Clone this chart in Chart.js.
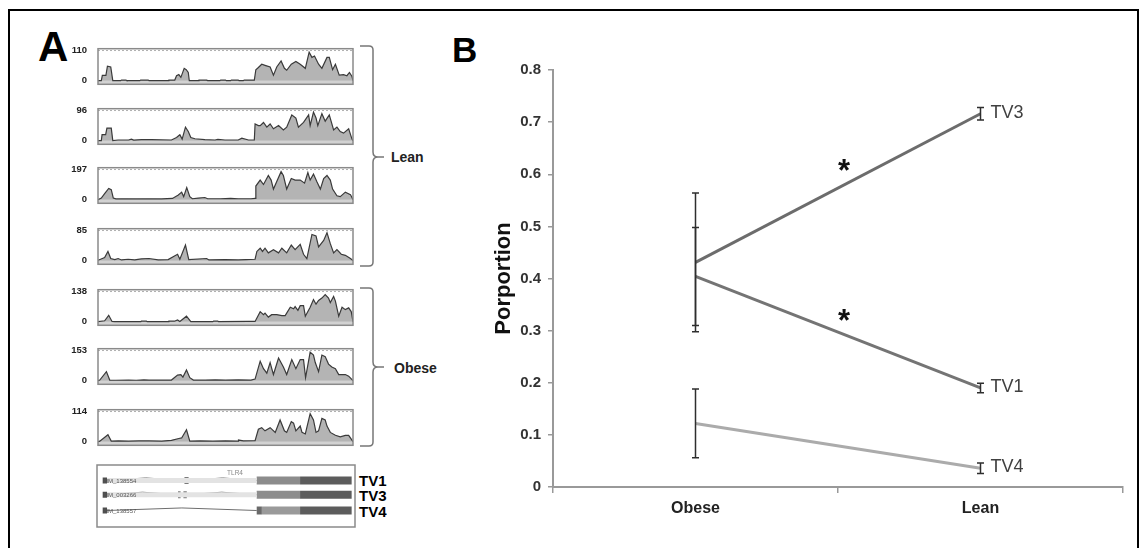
<!DOCTYPE html>
<html><head><meta charset="utf-8">
<script src="https://cdn.jsdelivr.net/npm/chart.js@4.4.1/dist/chart.umd.min.js"></script>
<style>
html,body{margin:0;padding:0;background:#fff;}
#stage{position:relative;width:1141px;height:548px;overflow:hidden;background:#fff;font-family:'Liberation Sans',Arial,sans-serif;}
#frame{position:absolute;left:8px;top:9px;width:1127px;height:560px;border:2px solid #000;}
canvas{position:absolute;}
.t{position:absolute;white-space:nowrap;color:#000;font-weight:bold;line-height:1;}
svg{position:absolute;left:0;top:0;}
</style></head><body>
<div id="stage">
<div id="frame"></div>
<div class="t" style="left:38px;top:26px;font-size:42px">A</div>
<div class="t" style="left:452px;top:32px;font-size:35px">B</div>
<div class="t" style="left:391px;top:150px;font-size:14px;color:#222">Lean</div>
<div class="t" style="left:394px;top:361px;font-size:14px;color:#222">Obese</div>
<div class="t" style="left:359px;top:473px;font-size:15px">TV1</div>
<div class="t" style="left:359px;top:488px;font-size:15px">TV3</div>
<div class="t" style="left:359px;top:504px;font-size:15px">TV4</div>
<svg width="1141" height="548">
<path d="M360,46 L369,46 Q373,46 373,50 L373,152 Q373,157 378,157 L384,157 M378,157 Q373,157 373,162 L373,262 Q373,266 369,266 L360,266" fill="none" stroke="#777" stroke-width="1.5"/>
<path d="M360,288 L369,288 Q373,288 373,292 L373,362 Q373,367 378,367 L384,367 M378,367 Q373,367 373,372 L373,442 Q373,446 369,446 L360,446" fill="none" stroke="#777" stroke-width="1.5"/>
</svg>
</div>
<script>
// ---------- Panel B data ----------
const groups = ['Obese', 'Lean'];
const seriesNames = ['TV3', 'TV1', 'TV4'];
const tv3Mean = [0.431, 0.716];
const tv3Err  = [0.133, 0.012];
const tv1Mean = [0.404, 0.190];
const tv1Err  = [0.094, 0.009];
const tv4Mean = [0.122, 0.036];
const tv4Err  = [0.066, 0.010];
const significant = ['TV3', 'TV1'];
const yAxisMax = 0.8;
const yAxisStep = 0.1;

// ---------- Panel A coverage data: [position %, read depth] ----------
const trackMax = [110, 96, 197, 85, 138, 153, 114];
const lean1 = [[0,0],[1.3,0],[1.7,19],[3.1,19],[3.7,53],[5.0,50],[5.8,0],[8.9,0],[9.2,2],[11,2],[11.3,0],[16.4,0],[16.7,2],[19.7,2],[20,0],[27.5,0],[27.8,2],[30.1,2],[30.8,18],[31.7,22],[32.5,12],[33.8,45],[34.6,40],[35.4,30],[35.8,0],[39.3,0],[39.6,2],[42.6,2],[43,0],[47.8,0],[48.1,2],[50,2],[50.3,0],[52,0],[52.3,2],[55,2],[55.3,0],[57,0],[57.3,2],[59,2],[61.3,2],[61.9,40],[62.9,48],[64.2,60],[65.8,55],[67.5,50],[68.8,20],[70.1,50],[71.8,72],[73.1,45],[74,38],[75.8,60],[77.6,70],[79.3,60],[81.3,45],[82.8,104],[83.9,85],[84.9,90],[86.5,60],[87.8,45],[89.8,85],[90.7,85],[92,40],[93.1,60],[94.6,20],[96.3,22],[97.6,18],[98.6,30],[99.6,15],[100,0]];
const lean2 = [[0,0],[1.3,0],[1.6,19],[3.0,19],[3.5,40],[5.2,40],[5.8,0],[7.9,2],[12,2],[13.1,5],[14,2],[17,3],[21,3],[28.8,2],[30.8,10],[32.1,19],[33,5],[34.3,43],[35.4,29],[36.4,10],[38,6],[41.9,3],[45.9,2],[47,4],[49.8,2],[55,2],[56.4,8],[59,2],[61.3,2],[61.6,53],[62.9,48],[63.6,48],[64.9,58],[66.2,43],[67.5,53],[68.8,38],[70.8,48],[72.7,34],[74,43],[76,82],[77.6,72],[78.6,43],[80.6,58],[82.6,82],[83.2,48],[84.5,91],[85.5,72],[86.2,48],[87.8,86],[89.1,62],[90.7,82],[92.4,34],[93.7,43],[95,29],[96.3,24],[98.3,38],[99.6,5],[100,0]];
const lean3 = [[0,0],[1.3,10],[2.6,39],[4.2,73],[5.2,65],[6,10],[7,5],[10,6],[15,5],[20,6],[25,5],[29.2,8],[31.5,30],[32.8,49],[33.6,20],[34.8,79],[36,20],[37,6],[39.3,10],[41.9,14],[43,6],[48,6],[52,8],[55,6],[60,6],[61.6,8],[61.9,89],[63.6,128],[64.9,99],[66.8,158],[67.9,128],[68.8,69],[70.1,118],[71.8,183],[72.7,158],[74,69],[75.8,138],[77.3,128],[79.3,128],[81,108],[82.3,177],[83.2,128],[84.5,167],[85.8,118],[87.2,69],[88.5,138],[89.8,158],[91.1,128],[92,69],[93.7,25],[95,20],[97,49],[99,33],[100,0]];
const lean4 = [[0,1],[2.6,9],[3.9,26],[5,6],[6.6,3],[7.9,6],[9.2,2],[11.8,4],[14.4,2],[17,5],[20,6],[23.6,2],[27.5,3],[31.2,18],[32.1,4],[34.3,44],[35.6,3],[42.6,6],[43.5,2],[49.8,3],[55,2],[58,3],[61.6,4],[62.3,26],[63.6,35],[64.5,26],[65.5,35],[66.8,22],[68.8,31],[70.8,22],[72.1,35],[74,22],[75.8,44],[77.3,31],[79.3,46],[80.6,18],[81.9,6],[83.9,74],[85.5,70],[86.5,39],[88.5,57],[89.8,79],[91.1,48],[92.4,22],[93.7,31],[95.4,18],[97,15],[99,6],[100,0]];
const obese1 = [[0,0],[2.6,4],[4.2,29],[5.5,1],[6.5,0],[16.8,0],[17,2],[19,2],[19.3,0],[27.5,0],[27.8,2],[30,2],[31.2,8],[32.1,1],[34.7,25],[36.4,0],[45,0],[45.3,2],[47,2],[47.3,0],[59,1],[61.6,1],[63.6,46],[64.9,32],[65.5,39],[66.8,21],[68.1,32],[70.1,32],[72.1,28],[73.4,28],[75.4,66],[76.7,59],[77.3,69],[78.4,52],[79.3,73],[80.6,73],[81.3,25],[83.2,66],[84.5,101],[85.5,80],[86.5,97],[87.8,108],[89.1,124],[90.4,108],[91.1,87],[92.4,115],[93.1,94],[94.4,25],[95.7,66],[97,55],[98.3,63],[99.3,46],[100,0]];
const obese2 = [[0,0],[0.7,3],[3.3,46],[4.6,3],[7,2],[12,3],[15,2],[18,4],[20,3],[25,3],[28.8,3],[31.2,28],[32.5,31],[33.3,18],[34.7,54],[36,15],[37.4,3],[42,3],[46,4],[50,3],[55,4],[60,3],[61.6,8],[63.6,99],[64.9,61],[66.2,38],[67.5,92],[68.8,31],[70.8,115],[72.7,69],[74,31],[76,107],[77.6,61],[79.3,107],[80.6,107],[81.4,15],[83.2,145],[84.5,130],[85.2,92],[86.5,46],[87.8,130],[89.1,122],[90.4,84],[91.7,69],[93.1,61],[94.4,31],[97,31],[98.3,23],[100,0]];
const obese3 = [[0,0],[0.7,2],[3.9,26],[5.2,2],[8,3],[12,2],[16,3],[20,3],[25,2],[28.8,5],[31.7,12],[32.8,14],[34.7,45],[36,2],[40,3],[45,2],[50,3],[55,2],[55.1,6],[57,3],[61.6,4],[62.9,47],[64.2,53],[65.5,41],[67.5,53],[69.5,35],[71.4,82],[73.1,41],[74,35],[75.8,76],[76.7,70],[77.6,41],[79.3,59],[80,35],[81.3,29],[83.2,106],[84.5,82],[85.5,35],[86.5,41],[87.8,88],[89.1,82],[89.8,59],[91.1,35],[93.1,24],[95,18],[97,24],[98.3,24],[100,0]];

// ---------- Gene model data (position % along locus) ----------
const transcripts = ['TV1', 'TV3', 'TV4'];
const accessions = ['NM_138554', 'NM_003266', 'NM_138557'];
const tv1Exons = [[2.2,3.9],[33.9,35.5],[61.9,78.7],[78.7,98.7]];
const tv3Exons = [[2.2,3.9],[31.4,32.4],[33.5,34.8],[61.9,78.7],[78.7,98.7]];
const tv4Exons = [[2.2,3.9],[61.9,63.9],[63.9,78.7],[78.7,98.7]];
const tv1Introns = [[3.9,33.9],[35.5,61.9]];
const tv3Introns = [[3.9,31.4],[34.8,61.9]];
const tv4Introns = [[3.9,61.9]];
const tv1Utr = [3.9,61.9];
const tv3Utr = [3.9,61.9];
const geneName = 'TLR4';
</script>
<script>
const SANS = "'Liberation Sans', Arial, sans-serif";
const stage = document.getElementById('stage');
Chart.defaults.animation = false;
Chart.defaults.plugins.legend.display = false;
Chart.defaults.plugins.tooltip.enabled = false;

function mkCanvas(left, top, w, h) {
  const c = document.createElement('canvas');
  c.width = w; c.height = h;
  c.style.left = left + 'px'; c.style.top = top + 'px';
  c.style.width = w + 'px'; c.style.height = h + 'px';
  stage.appendChild(c);
  return c;
}

// ---------- Panel A tracks ----------
const trackFrame = {
  id: 'trackFrame',
  beforeDatasetsDraw(chart) {
    const {ctx, chartArea: a, scales: {y}} = chart;
    const y0 = y.getPixelForValue(0);
    ctx.save();
    ctx.fillStyle = '#d2d2d2';
    ctx.fillRect(a.left, y0, a.right - a.left, a.bottom - y0);
    ctx.restore();
  },
  afterDraw(chart) {
    const {ctx, chartArea: a} = chart;
    ctx.save();
    ctx.strokeStyle = '#8a8a8a'; ctx.lineWidth = 1.5;
    ctx.strokeRect(a.left, a.top, a.right - a.left, a.bottom - a.top);
    ctx.restore();
  }
};
const tracks = [lean1, lean2, lean3, lean4, obese1, obese2, obese3];
const trackTops = [47, 107, 166, 227, 288, 347, 408];
const PADV = 7;
tracks.forEach((tr, k) => {
  const max = trackMax[k];
  const cv = mkCanvas(70, trackTops[k] - PADV, 284, 39 + 2 * PADV);
  new Chart(cv, {
    type: 'scatter',
    data: { datasets: [
      { data: tr.map(p => ({x: p[0], y: p[1]})), showLine: true, fill: 'origin',
        backgroundColor: '#b4b4b4', borderColor: '#3a3a3a', borderWidth: 1.2, pointRadius: 0, tension: 0 },
      { data: [{x: 0, y: max}, {x: 100, y: max}], showLine: true, borderColor: '#b0b0b0',
        borderWidth: 1, borderDash: [2, 2], pointRadius: 0 }
    ]},
    options: {
      responsive: false, devicePixelRatio: 1,
      layout: { padding: { top: PADV, bottom: PADV, right: 1, left: 0 } },
      scales: {
        x: { type: 'linear', min: 0, max: 100, display: false },
        y: { min: -max * 4 / 33, max: max * 35 / 33,
             afterBuildTicks: s => { s.ticks = [{value: 0}, {value: max}]; },
             ticks: { font: { family: SANS, size: 9.5, weight: 'bold' }, color: '#222', padding: 3 },
             grid: { display: false }, border: { display: false },
             afterFit: s => { s.width = 28; } }
      }
    },
    plugins: [trackFrame]
  });
});

// ---------- Gene model ----------
const rowLevel = { TV1: 3.1, TV3: 2.15, TV4: 1.1 };
function exonColor(s, e) {
  if (e <= 5) return '#4e4e4e';
  if (s >= 78) return '#5c5c5c';
  if (s >= 63) return '#9a9a9a';
  if (e < 64 && s > 61) return '#6a6a6a';
  if (s > 61) return '#8c8c8c';
  return '#7a7a7a';
}
function exonWidth(s, e) { if (e <= 5) return 6; if (s > 61) return 8; return 7; }
const geneSets = [];
[[tv1Utr, 'TV1'], [tv3Utr, 'TV3']].forEach(([u, r]) => {
  geneSets.push({ data: [{x: u[0], y: rowLevel[r]}, {x: u[1], y: rowLevel[r]}], showLine: true,
    borderColor: '#e3e3e3', borderWidth: 5, pointRadius: 0 });
});
[[tv1Introns, 'TV1'], [tv3Introns, 'TV3'], [tv4Introns, 'TV4']].forEach(([list, r]) => {
  list.forEach(([s, e]) => {
    const lv = rowLevel[r];
    geneSets.push({ data: [{x: s, y: lv}, {x: (s + e) / 2, y: lv + 0.17}, {x: e, y: lv}], showLine: true,
      borderColor: '#6e6e6e', borderWidth: 1, pointRadius: 0, tension: 0 });
  });
});
[[tv1Exons, 'TV1'], [tv3Exons, 'TV3'], [tv4Exons, 'TV4']].forEach(([list, r]) => {
  list.forEach(([s, e]) => {
    const lv = rowLevel[r];
    geneSets.push({ data: [{x: s, y: lv}, {x: e, y: lv}], showLine: true,
      borderColor: exonColor(s, e), borderWidth: exonWidth(s, e), pointRadius: 0, borderCapStyle: 'butt' });
  });
});
const geneLabels = {
  id: 'geneLabels',
  afterDatasetsDraw(chart) {
    const {ctx, chartArea: a, scales: {x, y}} = chart;
    ctx.save();
    ctx.font = '6px ' + SANS; ctx.fillStyle = '#555'; ctx.textBaseline = 'middle';
    transcripts.forEach((t, i) => {
      ctx.fillText(accessions[i], x.getPixelForValue(tv1Exons[0][0]) + 1, y.getPixelForValue(rowLevel[t]) + 0.5);
    });
    ctx.fillStyle = '#888'; ctx.font = '6.5px ' + SANS; ctx.textAlign = 'center';
    ctx.fillText(geneName, x.getPixelForValue(53.5), y.getPixelForValue(3.6));
    ctx.strokeStyle = '#8a8a8a'; ctx.lineWidth = 1.5;
    ctx.strokeRect(a.left, a.top, a.right - a.left, a.bottom - a.top);
    ctx.restore();
  }
};
new Chart(mkCanvas(96, 464, 260, 64), {
  type: 'scatter',
  data: { datasets: geneSets },
  options: {
    responsive: false, devicePixelRatio: 1,
    layout: { padding: 1 },
    scales: { x: { type: 'linear', min: 0, max: 100, display: false },
              y: { type: 'linear', min: 0, max: 62 / 15, display: false } }
  },
  plugins: [geneLabels]
});

// ---------- Panel B ----------
const errPlugin = {
  id: 'errbars',
  afterDatasetsDraw(chart) {
    const {ctx, scales: {x, y}} = chart;
    ctx.save();
    ctx.strokeStyle = '#2e2e2e'; ctx.lineWidth = 1.5;
    chart.data.datasets.forEach(ds => {
      ds.data.forEach((m, i) => {
        const px = x.getPixelForValue(i), e = ds.err[i];
        const t = y.getPixelForValue(m + e), b = y.getPixelForValue(m - e);
        ctx.beginPath();
        ctx.moveTo(px, t); ctx.lineTo(px, b);
        ctx.moveTo(px - 3.5, t); ctx.lineTo(px + 3.5, t);
        ctx.moveTo(px - 3.5, b); ctx.lineTo(px + 3.5, b);
        ctx.stroke();
      });
    });
    ctx.restore();
  }
};
const labelPlugin = {
  id: 'seriesLabels',
  afterDatasetsDraw(chart) {
    const {ctx, scales: {x, y}} = chart;
    ctx.save();
    chart.data.datasets.forEach(ds => {
      const last = ds.data.length - 1;
      const px = x.getPixelForValue(last), py = y.getPixelForValue(ds.data[last]);
      ctx.font = '18px ' + SANS; ctx.fillStyle = '#404040';
      ctx.textAlign = 'left'; ctx.textBaseline = 'middle';
      ctx.fillText(ds.label, px + 10, py - 1);
      if (significant.includes(ds.label)) {
        const x0 = x.getPixelForValue(0), x1 = x.getPixelForValue(1);
        const y0 = y.getPixelForValue(ds.data[0]), y1 = y.getPixelForValue(ds.data[1]);
        const ax = (x0 + x1) / 2 + 6;
        const ay = y0 + (y1 - y0) * (ax - x0) / (x1 - x0) - 21;
        ctx.font = 'bold 31px ' + SANS; ctx.fillStyle = '#111';
        ctx.textAlign = 'center'; ctx.textBaseline = 'alphabetic';
        ctx.fillText('*', ax, ay + 17);
      }
    });
    ctx.restore();
  }
};
new Chart(mkCanvas(488, 20, 645, 510), {
  type: 'line',
  data: {
    labels: groups,
    datasets: [
      { label: seriesNames[0], data: tv3Mean, err: tv3Err, borderColor: '#6c6c6c', borderWidth: 3, pointRadius: 0 },
      { label: seriesNames[1], data: tv1Mean, err: tv1Err, borderColor: '#747474', borderWidth: 3, pointRadius: 0 },
      { label: seriesNames[2], data: tv4Mean, err: tv4Err, borderColor: '#ababab', borderWidth: 3, pointRadius: 0 }
    ]
  },
  options: {
    responsive: false, devicePixelRatio: 1,
    layout: { padding: { top: 50, right: 10, bottom: 3, left: 0 } },
    scales: {
      x: { type: 'category', offset: true,
           grid: { offset: true, drawOnChartArea: false, tickLength: 6, color: '#999', lineWidth: 1.5 },
           border: { color: '#999', width: 2 },
           ticks: { font: { family: SANS, size: 16, weight: 'bold' }, color: '#222', padding: 6 },
           afterFit: s => { s.height = 40; } },
      y: { min: 0, max: yAxisMax,
           ticks: { stepSize: yAxisStep, callback: v => (Math.abs(v) < 1e-9 ? '0' : v.toFixed(1)),
                    font: { family: SANS, size: 15, weight: 'bold' }, color: '#333', padding: 7 },
           grid: { drawOnChartArea: false, tickLength: 5, color: '#999', lineWidth: 1.5 },
           border: { color: '#999', width: 2 },
           title: { display: true, text: 'Porportion', font: { family: SANS, size: 22, weight: 'bold' },
                    color: '#111', padding: { top: 3, bottom: 0 } },
           afterFit: s => { s.width = 65; } }
    }
  },
  plugins: [errPlugin, labelPlugin]
});
</script>
</body></html>
